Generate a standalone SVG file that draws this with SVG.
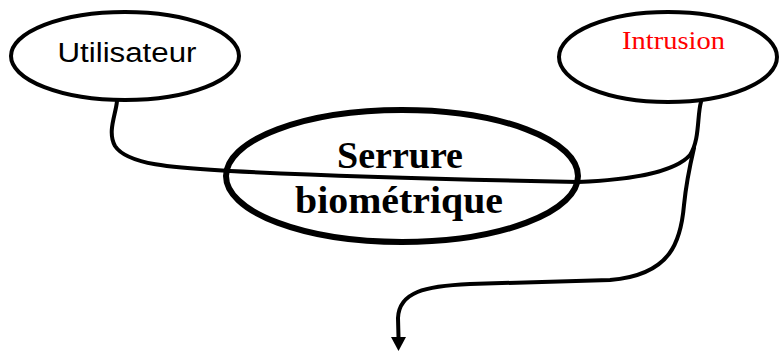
<svg xmlns="http://www.w3.org/2000/svg" width="779" height="351" viewBox="0 0 779 351">
<style>
.node{fill:#fff;stroke:#000;stroke-width:4}
.main{fill:#fff;stroke:#000;stroke-width:6}
.conn{fill:none;stroke:#000;stroke-width:4;stroke-linecap:round}
.sans{font-family:"Liberation Sans",Arial,sans-serif;font-size:27px;fill:#000}
.serif{font-family:"Liberation Serif","Times New Roman",serif;font-size:26px;fill:#ff0000}
.bold{font-family:"Liberation Serif","Times New Roman",serif;font-size:37px;font-weight:bold;fill:#000}
</style>
<g id="node-utilisateur">
<ellipse class="node" cx="125" cy="56" rx="114" ry="44"/>
<text class="sans" x="127" y="62" text-anchor="middle" textLength="139" lengthAdjust="spacingAndGlyphs">Utilisateur</text>
</g>
<g id="node-intrusion">
<ellipse class="node" cx="668" cy="57" rx="109" ry="45"/>
<text class="serif" x="673.5" y="49" text-anchor="middle" textLength="103" lengthAdjust="spacingAndGlyphs">Intrusion</text>
</g>
<g id="node-serrure">
<ellipse class="main" cx="402" cy="176" rx="176" ry="66"/>
<text class="bold" x="400" y="168" text-anchor="middle" textLength="126" lengthAdjust="spacingAndGlyphs">Serrure</text>
<text class="bold" x="399" y="213" text-anchor="middle" textLength="208" lengthAdjust="spacingAndGlyphs">biométrique</text>
</g>
<g id="connectors">
<path class="conn" d="M117,101 C116,114 107,132 115,146 C128,166 180,168 230,171 C330,176 480,180 578,182 C630,180 675,172 690,155 C700,140 697,115 701,102"/>
<path class="conn" d="M694,148 C690,165 686,185 684,205 C681,240 672,275 610,280 L470,284 C425,286 399,292 398,318 L398.5,337"/>
<path d="M391,337 L406,337 L398.5,351 Z" fill="#000"/>
</g>
</svg>
